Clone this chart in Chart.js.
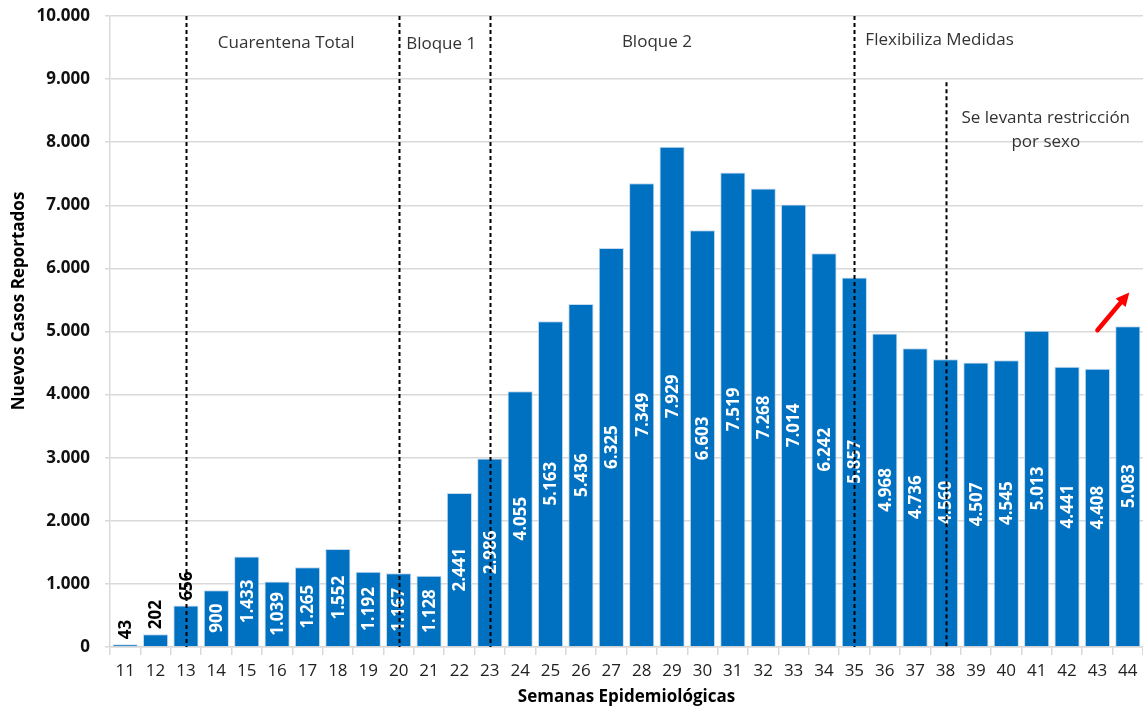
<!DOCTYPE html>
<html lang="es">
<head>
<meta charset="utf-8">
<title>Nuevos Casos Reportados</title>
<script src="https://cdn.jsdelivr.net/npm/chart.js@4.4.1/dist/chart.umd.min.js"></script>
<style>
  html, body { margin: 0; padding: 0; background: #fff; }
  #wrap { width: 1143px; height: 711px; position: relative; }
</style>
</head>
<body>
<div id="wrap"><canvas id="chart"></canvas></div>
<script>
// Semanas epidemiológicas y casos nuevos por semana
const weeks = [11, 12, 13, 14, 15, 16, 17, 18, 19, 20, 21, 22, 23, 24, 25, 26, 27,
               28, 29, 30, 31, 32, 33, 34, 35, 36, 37, 38, 39, 40, 41, 42, 43, 44];
const newCases = [43, 202, 656, 900, 1433, 1039, 1265, 1552, 1192, 1167, 1128, 2441,
                  2986, 4055, 5163, 5436, 6325, 7349, 7929, 6603, 7519, 7268, 7014,
                  6242, 5857, 4968, 4736, 4560, 4507, 4545, 5013, 4441, 4408, 5083];

// Semanas donde cambian las medidas (líneas punteadas) y hasta dónde suben
const milestoneWeeks = [13, 20, 23, 35, 38];
const milestoneTops = [10000, 10000, 10000, 10000, 8950];
const phaseLabels = ["Cuarentena Total", "Bloque 1", "Bloque 2", "Flexibiliza Medidas",
                     "Se levanta restricción", "por sexo"];

const yTicks = [0, 1000, 2000, 3000, 4000, 5000, 6000, 7000, 8000, 9000, 10000];

const BLUE = "#0070C0";
const GRID = "#d9d9d9";
const FONT = "'Open Sans', 'Noto Sans', sans-serif";

const fmt = (v) => String(v).replace(/\B(?=(\d{3})+(?!\d))/g, ".");

// líneas, textos de fases, flecha, etiquetas de datos y títulos de ejes
const overlay = {
    id: "overlay",
    afterDatasetsDraw(chart) {
        const { ctx, scales: { x, y } } = chart;
        const xi = (i) => x.getPixelForValue(i);
        ctx.save();

        // etiquetas de valores sobre las barras
        const meta = chart.getDatasetMeta(0);
        ctx.font = `bold 17px ${FONT}`;
        meta.data.forEach((bar, i) => {
            const txt = fmt(newCases[i]);
            const tw = ctx.measureText(txt).width;
            const h = bar.base - bar.y;
            ctx.save();
            ctx.translate(bar.x, 0);
            ctx.rotate(-Math.PI / 2);
            ctx.textBaseline = "middle";
            if (h > tw + 16) {
                ctx.fillStyle = "#ffffff";
                ctx.textAlign = "center";
                ctx.fillText(txt, -(bar.y + bar.base) / 2, 1);
            } else {
                ctx.fillStyle = "#000000";
                ctx.textAlign = "left";
                ctx.fillText(txt, -(bar.y - 5), 1);
            }
            ctx.restore();
        });

        // líneas punteadas de cambio de fase
        ctx.strokeStyle = "#000";
        ctx.lineWidth = 2;
        ctx.setLineDash([4, 3]);
        milestoneWeeks.forEach((w, i) => {
            const px = Math.round(xi(weeks.indexOf(w))) + 0.5;
            ctx.beginPath();
            ctx.moveTo(px, y.getPixelForValue(milestoneTops[i]));
            ctx.lineTo(px, y.getPixelForValue(0));
            ctx.stroke();
        });
        ctx.setLineDash([]);

        // textos de cada fase
        ctx.font = `17px ${FONT}`;
        ctx.fillStyle = "#333";
        ctx.textBaseline = "middle";
        ctx.textAlign = "center";
        ctx.fillText(phaseLabels[0], xi(5.3), y.getPixelForValue(9570));
        ctx.fillText(phaseLabels[1], xi(10.4), y.getPixelForValue(9550));
        ctx.fillText(phaseLabels[2], xi(17.5), y.getPixelForValue(9590));
        ctx.textAlign = "left";
        ctx.fillText(phaseLabels[3], xi(weeks.indexOf(35)) + 11, y.getPixelForValue(9620));
        ctx.textAlign = "center";
        ctx.fillText(phaseLabels[4], xi(30.3), y.getPixelForValue(8380));
        ctx.fillText(phaseLabels[5], xi(30.3), y.getPixelForValue(8000));

        // flecha roja de tendencia al alza
        const x0 = xi(32), y0 = y.getPixelForValue(5020);
        const x1 = xi(33.05), y1 = y.getPixelForValue(5620);
        const ang = Math.atan2(y1 - y0, x1 - x0);
        const head = 15;
        ctx.strokeStyle = "#ff0000";
        ctx.fillStyle = "#ff0000";
        ctx.lineWidth = 4.5;
        ctx.lineCap = "round";
        ctx.beginPath();
        ctx.moveTo(x0, y0);
        ctx.lineTo(x1 - Math.cos(ang) * head * 0.8, y1 - Math.sin(ang) * head * 0.8);
        ctx.stroke();
        ctx.beginPath();
        ctx.moveTo(x1, y1);
        ctx.lineTo(x1 - head * Math.cos(ang - 0.45), y1 - head * Math.sin(ang - 0.45));
        ctx.lineTo(x1 - head * Math.cos(ang + 0.45), y1 - head * Math.sin(ang + 0.45));
        ctx.closePath();
        ctx.fill();

        // títulos de los ejes
        ctx.fillStyle = "#000";
        ctx.font = `bold 17px ${FONT}`;
        ctx.textAlign = "center";
        ctx.fillText("Semanas Epidemiológicas", (x.left + x.right) / 2, 697);
        ctx.save();
        ctx.translate(19, 301);
        ctx.rotate(-Math.PI / 2);
        ctx.fillText("Nuevos Casos Reportados", 0, 0);
        ctx.restore();

        ctx.restore();
    }
};

const ctx = document.getElementById("chart").getContext("2d");
new Chart(ctx, {
    type: "bar",
    data: {
        labels: weeks.map(String),
        datasets: [{
            label: "Nuevos Casos Reportados",
            data: newCases,
            backgroundColor: BLUE,
            borderColor: "rgba(190, 215, 238, 0.9)",
            borderWidth: 1,
            barPercentage: 0.83,
            categoryPercentage: 1,
        }],
    },
    options: {
        responsive: true,
        maintainAspectRatio: false,
        animation: false,
        layout: { padding: { top: 16, right: 0, left: 0, bottom: 0 } },
        plugins: {
            legend: { display: false },
            tooltip: { enabled: false },
        },
        scales: {
            x: {
                afterFit: (s) => { s.height = 64; s.paddingRight = 0; },
                grid: {
                    offset: true,
                    drawOnChartArea: false,
                    drawTicks: true,
                    tickLength: 8,
                    color: GRID,
                    lineWidth: 1.5,
                },
                border: { color: GRID, width: 1.5 },
                ticks: {
                    color: "#222",
                    font: { family: FONT, size: 17 },
                    padding: 6,
                    maxRotation: 0,
                    autoSkip: false,
                },
            },
            y: {
                min: 0,
                max: 10000,
                afterFit: (s) => { s.width = 110; s.paddingTop = 0; s.paddingBottom = 0; },
                afterBuildTicks: (s) => { s.ticks = yTicks.map(v => ({ value: v })); },
                grid: {
                    color: GRID,
                    lineWidth: 1.5,
                    drawTicks: true,
                    tickLength: 5,
                },
                border: { color: GRID, width: 1.5 },
                ticks: {
                    color: "#111",
                    font: { family: FONT, size: 17, weight: "bold" },
                    padding: 15,
                    callback: (v) => fmt(v),
                },
            },
        },
    },
    plugins: [overlay],
});
</script>
</body>
</html>
